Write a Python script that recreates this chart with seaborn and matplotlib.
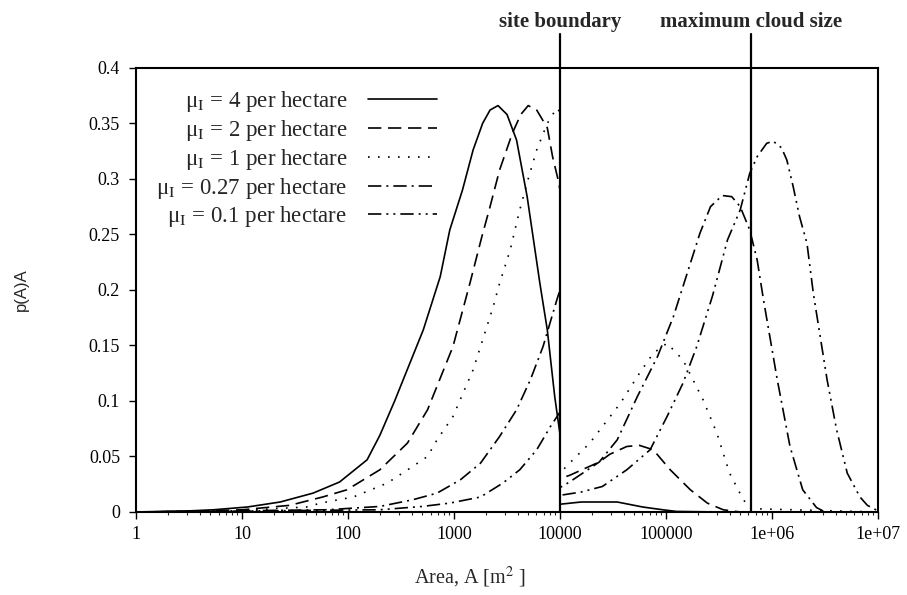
import numpy as np
import pandas as pd
import matplotlib
matplotlib.use("Agg")
import matplotlib.pyplot as plt
import seaborn as sns
from matplotlib.lines import Line2D
from matplotlib.ticker import FixedLocator, FixedFormatter, LogLocator, NullFormatter

# ---------------- data ----------------
series_labels = [
    "μ$_{\\rm I}$ = 4 per hectare",
    "μ$_{\\rm I}$ = 2 per hectare",
    "μ$_{\\rm I}$ = 1 per hectare",
    "μ$_{\\rm I}$ = 0.27 per hectare",
    "μ$_{\\rm I}$ = 0.1 per hectare",
]

# log10(area) positions and p(A)A values; the jump at the site boundary is kept
log_area_mu4 = [0, 0.5, 0.73, 1.05, 1.36, 1.67, 1.92, 2.18, 2.30, 2.44, 2.52, 2.71, 2.87, 2.96,
                3.08, 3.18, 3.27, 3.34, 3.415, 3.50, 3.59, 3.69, 3.81, 3.88, 3.95, 4.0,
                4.0, 4.2, 4.54, 4.78, 4.97, 5.1, 5.5, 7.0]
pA_mu4 = [0, 0.001, 0.002, 0.0045, 0.009, 0.017, 0.027, 0.047, 0.069, 0.1, 0.119, 0.164, 0.212, 0.254,
          0.29, 0.326, 0.35, 0.362, 0.366, 0.358, 0.335, 0.284, 0.206, 0.164, 0.104, 0.07,
          0.007, 0.009, 0.009, 0.0045, 0.002, 0.0005, 0, 0]

log_area_mu2 = [0, 0.5, 1.0, 1.45, 1.76, 1.99, 2.30, 2.56, 2.75, 2.99, 3.15, 3.26, 3.34, 3.43,
                3.55, 3.63, 3.70, 3.78, 3.88, 3.93, 3.98, 4.0,
                4.0, 4.09, 4.37, 4.47, 4.63, 4.75, 4.88, 5.04, 5.23, 5.39, 5.54, 5.7, 7.0]
pA_mu2 = [0, 0.0005, 0.002, 0.006, 0.0135, 0.02, 0.038, 0.062, 0.092, 0.149, 0.206, 0.247, 0.275, 0.308,
          0.341, 0.358, 0.366, 0.362, 0.346, 0.32, 0.30, 0.29,
          0.03, 0.033, 0.045, 0.052, 0.059, 0.060, 0.056, 0.038, 0.02, 0.008, 0.002, 0, 0]

log_area_mu1 = [0, 1.0, 1.3, 1.61, 1.74, 2.05, 2.37, 2.61, 2.75, 2.84, 2.99, 3.18, 3.37, 3.43,
                3.53, 3.62, 3.70, 3.78, 3.88, 3.97, 4.0,
                4.0, 4.09, 4.28, 4.57, 4.75, 4.88, 5.01, 5.16, 5.35, 5.48, 5.60, 5.73, 5.8, 7.0]
pA_mu1 = [0, 0.001, 0.003, 0.0045, 0.008, 0.0135, 0.026, 0.041, 0.05, 0.065, 0.086, 0.128, 0.185, 0.206,
          0.236, 0.272, 0.30, 0.326, 0.35, 0.364, 0.36,
          0.035, 0.044, 0.062, 0.098, 0.125, 0.143, 0.152, 0.137, 0.101, 0.071, 0.035, 0.011, 0.003, 0]

log_area_mu027 = [0, 1.8, 2.3, 2.61, 2.84, 3.06, 3.25, 3.43, 3.59, 3.72, 3.84, 3.97, 4.0,
                  4.0, 4.09, 4.37, 4.54, 4.73, 4.92, 5.07, 5.2, 5.32, 5.42, 5.53, 5.62, 5.70,
                  5.79, 5.86, 5.92, 6.05, 6.17, 6.29, 6.42, 6.5, 7.0]
pA_mu027 = [0, 0.002, 0.005, 0.011, 0.017, 0.029, 0.044, 0.068, 0.092, 0.119, 0.149, 0.191, 0.2,
            0.022, 0.027, 0.045, 0.065, 0.104, 0.14, 0.176, 0.215, 0.251, 0.275, 0.285, 0.284, 0.275,
            0.254, 0.227, 0.191, 0.119, 0.059, 0.02, 0.004, 0, 0]

log_area_mu01 = [0, 2.3, 2.7, 2.96, 3.25, 3.46, 3.62, 3.78, 3.91, 4.0,
                 4.0, 4.2, 4.4, 4.63, 4.85, 5.01, 5.16, 5.29, 5.44, 5.58, 5.70, 5.79, 5.86, 5.95,
                 6.01, 6.09, 6.14, 6.2, 6.26, 6.33, 6.39, 6.52, 6.61, 6.71, 6.83, 6.9, 7.0]
pA_mu01 = [0, 0.002, 0.005, 0.008, 0.0135, 0.026, 0.038, 0.056, 0.077, 0.09,
           0.015, 0.018, 0.023, 0.038, 0.056, 0.086, 0.116, 0.149, 0.195, 0.245, 0.272, 0.305, 0.32, 0.332,
           0.334, 0.328, 0.317, 0.293, 0.266, 0.242, 0.197, 0.119, 0.074, 0.035, 0.0135, 0.006, 0.001]

site_boundary = 1.0e4
max_cloud_size = 6.3e5
vline_labels = ["site boundary", "maximum cloud size"]

x_tick_values = [1, 10, 100, 1000, 10000, 100000, 1e6, 1e7]
x_tick_labels = ["1", "10", "100", "1000", "10000", "100000", "1e+06", "1e+07"]
y_tick_values = [0, 0.05, 0.1, 0.15, 0.2, 0.25, 0.3, 0.35, 0.4]
y_tick_labels = ["0", "0.05", "0.1", "0.15", "0.2", "0.25", "0.3", "0.35", "0.4"]

# ---------------- build table ----------------
all_logs = [log_area_mu4, log_area_mu2, log_area_mu1, log_area_mu027, log_area_mu01]
all_vals = [pA_mu4, pA_mu2, pA_mu1, pA_mu027, pA_mu01]
frames = []
for lab, lx, py in zip(series_labels, all_logs, all_vals):
    frames.append(pd.DataFrame({"area": 10.0 ** np.asarray(lx, dtype=float),
                                "pA": py, "series": lab}))
df = pd.concat(frames, ignore_index=True)

dash_map = {
    series_labels[0]: "",
    series_labels[1]: (8, 4),
    series_labels[2]: (1, 5),
    series_labels[3]: (8, 3, 1.2, 3),
    series_labels[4]: (8, 3, 1.2, 3, 1.2, 3),
}

# ---------------- style ----------------
sns.set_style("ticks")
plt.rcParams["font.family"] = ["Liberation Serif", "DejaVu Serif"]
plt.rcParams["mathtext.fontset"] = "stix"

fig = plt.figure(figsize=(9.07, 5.95), dpi=100)
ax = fig.add_axes([0.15, 0.1395, 0.968 - 0.15, 0.886 - 0.1395])
ax.set_xscale("log")

LW = 1.2
sns.lineplot(data=df, x="area", y="pA", style="series", style_order=series_labels,
             dashes=dash_map, color="black", linewidth=LW, estimator=None, sort=False,
             legend=False, ax=ax)

ax.set_xlim(1, 1e7)
ax.set_ylim(0, 0.4)

# vertical reference lines extending above the axes, labels just above them
top_frac = (512 - 34) / 444.0
label_frac = (512 - 27) / 444.0
for xv, lab in zip([site_boundary, max_cloud_size], vline_labels):
    ax.axvline(xv, ymin=0, ymax=top_frac, color="black", lw=1.6, clip_on=False)
    ax.text(xv, label_frac, lab, transform=ax.get_xaxis_transform(), ha="center",
            va="baseline", fontsize=15, fontweight="bold")

# ticks
ax.xaxis.set_major_locator(FixedLocator(x_tick_values))
ax.xaxis.set_major_formatter(FixedFormatter(x_tick_labels))
ax.xaxis.set_minor_locator(LogLocator(base=10, subs=np.arange(2, 10)))
ax.xaxis.set_minor_formatter(NullFormatter())
ax.yaxis.set_major_locator(FixedLocator(y_tick_values))
ax.yaxis.set_major_formatter(FixedFormatter(y_tick_labels))
ax.tick_params(axis="both", which="major", direction="out", length=5, width=1,
               labelsize=13, colors="black")
ax.tick_params(axis="y", which="major", pad=6.5)
ax.tick_params(axis="x", which="major", pad=5)
ax.tick_params(axis="x", which="minor", direction="out", length=2.5, width=0.8)
for sp in ax.spines.values():
    sp.set_visible(True)
    sp.set_linewidth(1.5)
    sp.set_color("black")

ax.set_xlabel(r"Area, A [m$^{2}$ ]", fontsize=14.5)
ax.xaxis.set_label_coords(0.45, -0.118)
ax.set_ylabel("p(A)A", fontsize=12, family=["Liberation Sans", "DejaVu Sans"])
ax.yaxis.set_label_coords(-0.145, 0.5)

# legend: text on the left, line samples on the right
handles = []
for lab in series_labels:
    d = dash_map[lab]
    h = Line2D([0], [0], color="black", lw=LW)
    if d != "":
        h.set_dashes(d)
    handles.append(h)
ax.legend(handles, series_labels, loc="upper right",
          bbox_to_anchor=((437 - 136) / 742.0, (512 - 89) / 444.0),
          frameon=False, markerfirst=False, fontsize=16.5, handlelength=3.0,
          handletextpad=0.92, labelspacing=0.17, borderpad=0, borderaxespad=0)

fig.savefig("out.png", dpi=100)
